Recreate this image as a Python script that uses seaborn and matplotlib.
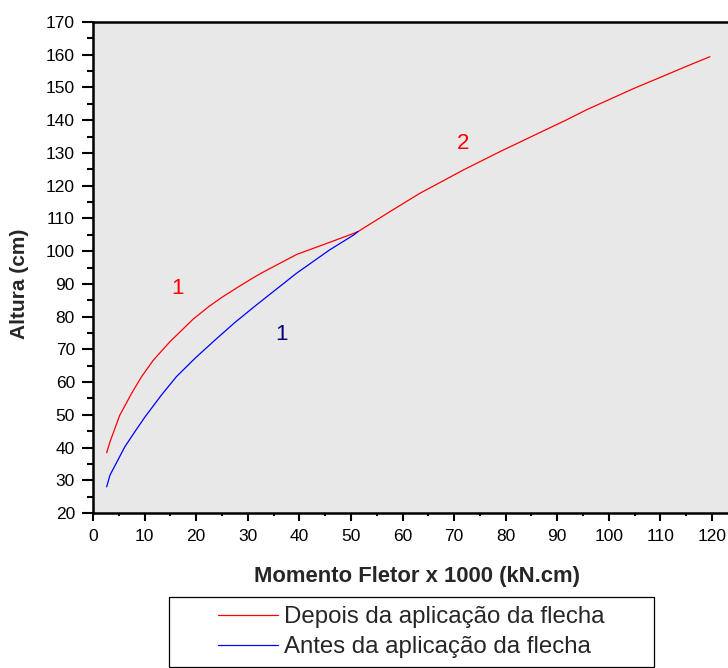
import numpy as np
import pandas as pd
import matplotlib
matplotlib.use("Agg")
import matplotlib.pyplot as plt
from matplotlib.lines import Line2D
from matplotlib.ticker import MultipleLocator
from matplotlib.legend_handler import HandlerLine2D
import seaborn as sns

# Momento fletor (x1000 kN.cm) x altura da seção (cm)
depois_momento = [2.65, 3.3, 5.2, 7.5, 9.4, 11.7, 14.9, 19.4, 22.4, 25.0, 28.2,
                  31.1, 33.0, 39.5, 45.9, 50.5, 51.4, 57.6, 63.4, 67.9, 71.8,
                  78.9, 85.4, 91.8, 95.7, 104.7, 111.2, 115.1, 119.6]
depois_altura = [38.4, 41.8, 49.9, 56.6, 61.6, 66.7, 72.3, 79.2, 83.0, 85.9, 89.1,
                 91.9, 93.6, 99.0, 102.7, 105.4, 106.0, 112.1, 117.7, 121.5, 124.8,
                 130.4, 135.3, 140.1, 143.2, 149.6, 153.9, 156.5, 159.4]

antes_momento = [2.65, 3.3, 6.2, 8.1, 10.1, 13.3, 16.2, 19.8, 23.7, 27.5, 31.4,
                 33.0, 39.5, 45.9, 50.5, 51.4]
antes_altura = [28.0, 31.6, 40.3, 44.8, 49.4, 56.1, 61.7, 67.3, 72.9, 78.2, 83.2,
                85.2, 93.3, 100.4, 104.9, 106.0]

serie_labels = ["Depois da aplicação da flecha", "Antes da aplicação da flecha"]
serie_colors = ["#FF0000", "#0000FF"]

# trecho anotado: (texto, momento, altura, cor)
trechos = [("1", 16.3, 88.7, "#FF0000"),
           ("1", 36.6, 74.4, "#000080"),
           ("2", 71.7, 133.0, "#FF0000")]

x_ticks = list(range(0, 121, 10))
y_ticks = list(range(20, 171, 10))

sns.set_style("ticks")
plt.rcParams["font.family"] = ["Liberation Sans", "DejaVu Sans"]

df = pd.concat([
    pd.DataFrame({"momento": depois_momento, "altura": depois_altura,
                  "serie": serie_labels[0]}),
    pd.DataFrame({"momento": antes_momento, "altura": antes_altura,
                  "serie": serie_labels[1]}),
], ignore_index=True)

W, H = 728, 668
fig = plt.figure(figsize=(W / 100, H / 100), dpi=100)
ax = fig.add_axes([93 / W, 1 - 513 / H, (W - 93) / W, (513 - 22) / H])
ax.set_facecolor("#E8E8E8")

sns.lineplot(data=df, x="momento", y="altura", hue="serie",
             hue_order=serie_labels, palette=serie_colors,
             sort=False, estimator=None, linewidth=0.9, ax=ax, legend=False)

for txt, mx, my, cor in trechos:
    ax.text(mx, my, txt, color=cor, fontsize=16, ha="center", va="center")

ax.set_xlim(0, 123.1)
ax.set_ylim(20, 170)
ax.set_xticks(x_ticks)
ax.set_yticks(y_ticks)
ax.xaxis.set_minor_locator(MultipleLocator(5))
ax.yaxis.set_minor_locator(MultipleLocator(5))

for side in ["left", "bottom", "top"]:
    ax.spines[side].set_visible(True)
    ax.spines[side].set_color("black")
    ax.spines[side].set_linewidth(1.8)
ax.spines["right"].set_visible(False)

ax.tick_params(axis="both", which="both", direction="out", color="black",
               width=1.5, labelcolor="black", top=False, right=False)
ax.tick_params(axis="x", which="major", length=5.5, pad=6, labelsize=12.5)
ax.tick_params(axis="x", which="minor", length=2.5)
ax.tick_params(axis="y", which="major", length=8, pad=5, labelsize=12.5)
ax.tick_params(axis="y", which="minor", length=4)

ax.set_xlabel("Momento Fletor x 1000 (kN.cm)", fontsize=15.8, fontweight="bold")
ax.set_ylabel("Altura (cm)", fontsize=15, fontweight="bold")
ax.xaxis.set_label_coords(0.51, -0.108)
ax.yaxis.set_label_coords(-0.101, 0.466)


class InsetLine(HandlerLine2D):
    """Legend line drawn only over the right part of the handle box."""

    def get_xdata(self, legend, xdescent, ydescent, width, height, fontsize):
        xs = np.array([-xdescent + 0.40 * width, -xdescent + width])
        return xs, xs


handles = [Line2D([], [], color=c, linewidth=0.9) for c in serie_colors]
leg = fig.legend(handles, serie_labels, loc="upper left",
                 bbox_to_anchor=(169 / W, 0, 485 / W, 1 - 597 / H),
                 mode="expand", borderaxespad=0, fontsize=17.3,
                 handlelength=4.17, handletextpad=0.25, borderpad=0.38,
                 labelspacing=0.33, fancybox=False, framealpha=1,
                 facecolor="white", edgecolor="black",
                 handler_map={Line2D: InsetLine()})
leg.get_frame().set_linewidth(0.9)

fig.savefig("out.png", dpi=100)
